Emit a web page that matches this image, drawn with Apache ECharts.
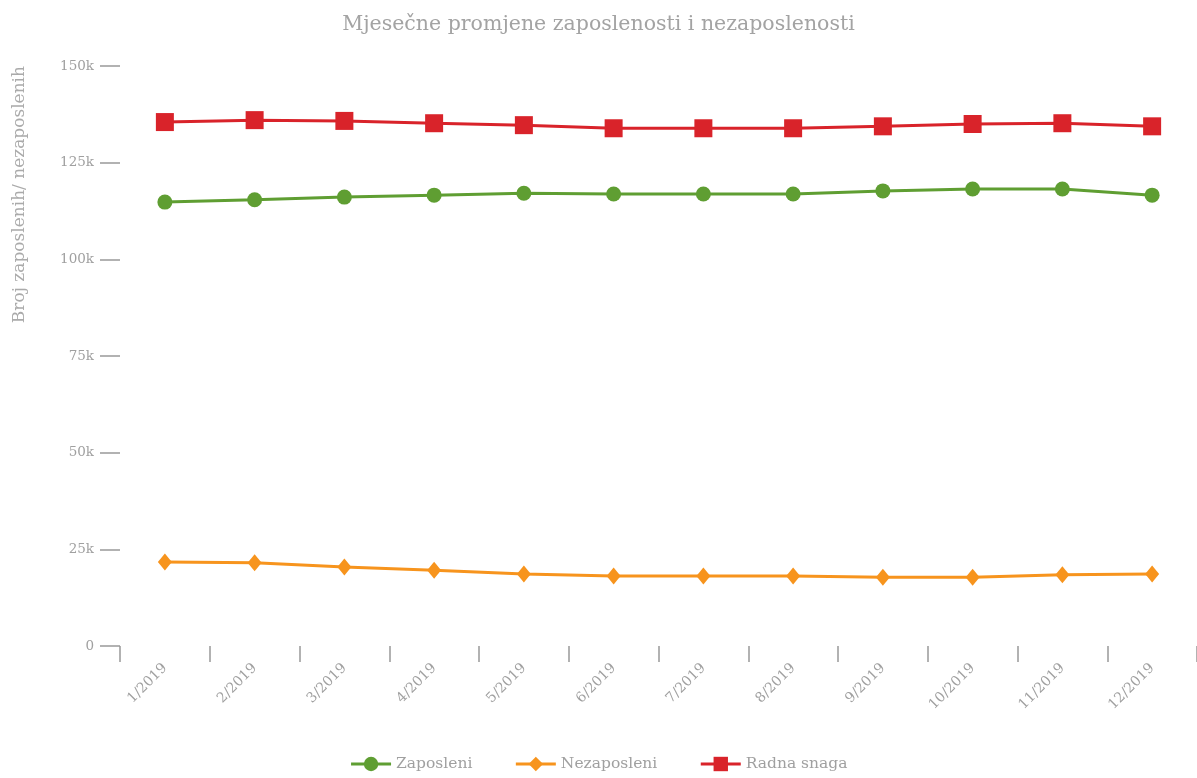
<!DOCTYPE html>
<html>
<head>
<meta charset="utf-8">
<script src="https://cdn.jsdelivr.net/npm/echarts@6/dist/echarts.min.js"></script>
<style>html,body{margin:0;padding:0;background:#fff;}#c{width:1197px;height:778px;}</style>
</head>
<body>
<div id="c"></div>
<script>
var categories = ['1/2019','2/2019','3/2019','4/2019','5/2019','6/2019','7/2019','8/2019','9/2019','10/2019','11/2019','12/2019'];
var zaposleni = [114800, 115400, 116100, 116600, 117100, 116900, 116900, 116900, 117700, 118200, 118200, 116600];
var nezaposleni = [21700, 21500, 20400, 19600, 18600, 18100, 18100, 18100, 17800, 17800, 18400, 18600];
var radnaSnaga = [135500, 136000, 135800, 135200, 134700, 133900, 133900, 133900, 134400, 135000, 135200, 134400];
var yTicks = [0, 25000, 50000, 75000, 100000, 125000, 150000];

var FONT = 'DejaVu Serif';
var GRAY = '#a0a0a0';
var chart = echarts.init(document.getElementById('c'), null, {renderer: 'canvas'});
chart.setOption({
  animation: false,
  backgroundColor: '#fff',
  title: {
    text: 'Mjesečne promjene zaposlenosti i nezaposlenosti',
    left: 'center', top: 9,
    textStyle: {fontFamily: FONT, fontSize: 20.5, fontWeight: 'normal', color: '#a3a3a3'}
  },
  graphic: [{
    type: 'text', left: 11, top: 66, rotation: Math.PI / 2,
    style: {text: 'Broj zaposlenih/ nezaposlenih', font: '17px "DejaVu Serif"', fill: '#aaa'}
  }],
  legend: {
    bottom: 1, left: 'center', itemWidth: 40, itemHeight: 18, itemGap: 42,
    lineStyle: {width: 3},
    textStyle: {fontFamily: FONT, fontSize: 15.5, color: GRAY}
  },
  grid: {left: 120, right: 0, top: 66, bottom: 132, containLabel: false},
  xAxis: {
    type: 'category', data: categories, boundaryGap: true,
    axisLine: {show: false},
    axisTick: {show: true, length: 16, lineStyle: {color: '#999', width: 1.5}},
    axisLabel: {rotate: 45, margin: 20, fontFamily: FONT, fontSize: 14, color: GRAY}
  },
  yAxis: {
    type: 'value', min: yTicks[0], max: yTicks[yTicks.length - 1], interval: 25000,
    axisLine: {show: false},
    axisTick: {show: true, length: 20, lineStyle: {color: '#999', width: 1.5}},
    splitLine: {show: false},
    axisLabel: {margin: 26, fontFamily: FONT, fontSize: 13.5, color: GRAY,
      formatter: function (v) { return v === 0 ? '0' : (v / 1000) + 'k'; }}
  },
  series: [
    {name: 'Zaposleni', type: 'line', data: zaposleni, symbol: 'circle', symbolSize: 15,
      itemStyle: {color: '#5f9e32'}, lineStyle: {width: 3, color: '#5f9e32'}},
    {name: 'Nezaposleni', type: 'line', data: nezaposleni, symbol: 'diamond', symbolSize: [14, 17],
      itemStyle: {color: '#f7941d'}, lineStyle: {width: 3, color: '#f7941d'}},
    {name: 'Radna snaga', type: 'line', data: radnaSnaga, symbol: 'rect', symbolSize: 18,
      itemStyle: {color: '#d9232a'}, lineStyle: {width: 3, color: '#d9232a'}}
  ]
});
</script>
</body>
</html>
